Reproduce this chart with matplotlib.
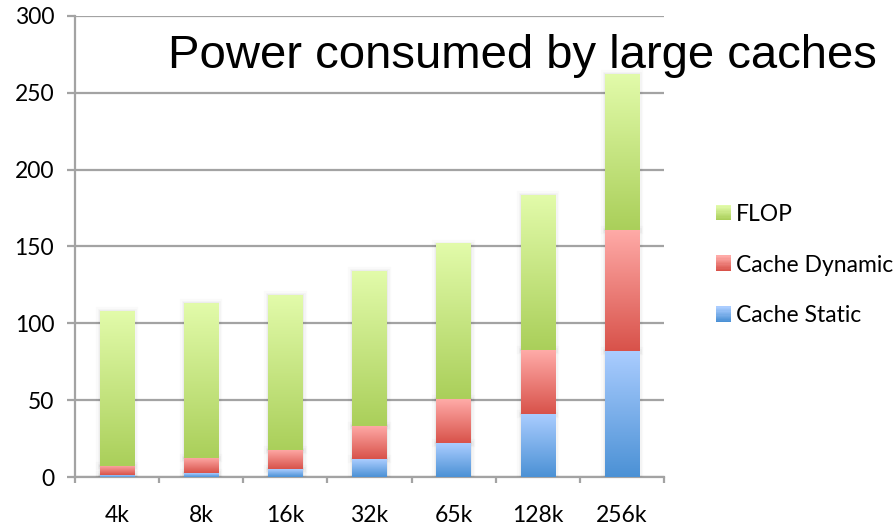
import numpy as np
import matplotlib
matplotlib.use('Agg')
import matplotlib.pyplot as plt
import matplotlib.patheffects as pe
from matplotlib.colors import LinearSegmentedColormap
from matplotlib.patches import Rectangle
from matplotlib.legend_handler import HandlerBase

# cache sizes and power per component
sizes = ['4k', '8k', '16k', '32k', '65k', '128k', '256k']
cache_static = [1.3, 2.6, 5.1, 11.5, 22, 41, 82]
cache_dynamic = [6.1, 10, 12.5, 22, 28.5, 41.5, 79]
flop = [100.5, 100.5, 100.8, 100.5, 101, 100.8, 101]

# (top colour, bottom colour) for each series
shades = {
    'Cache Static': ('#abcdff', '#4b91d5'),
    'Cache Dynamic': ('#ffaba8', '#d8524a'),
    'FLOP': ('#e2fbaa', '#aacf5a'),
}

plt.rcParams['font.family'] = ['Lato', 'DejaVu Sans']

fig = plt.figure(figsize=(8.96, 5.27), dpi=100)
ax = fig.add_axes([75 / 896, 1 - 477 / 527, (664 - 75) / 896, (477 - 16) / 527])

x = np.arange(len(sizes))
bottom = np.zeros(len(sizes))
shadow = [pe.Stroke(linewidth=6, foreground='k', alpha=0.02),
          pe.Stroke(linewidth=3.5, foreground='k', alpha=0.025),
          pe.Stroke(linewidth=1.5, foreground='k', alpha=0.03),
          pe.Normal()]

for name, vals in [('Cache Static', cache_static),
                   ('Cache Dynamic', cache_dynamic),
                   ('FLOP', flop)]:
    top_c, bot_c = shades[name]
    cmap = LinearSegmentedColormap.from_list(name, [bot_c, top_c])
    bars = ax.bar(x, vals, width=0.41, bottom=bottom, color=bot_c,
                  linewidth=0, zorder=3)
    for p in bars:
        p.set_path_effects(shadow)
        bx, by = p.get_x(), p.get_y()
        bw, bh = p.get_width(), p.get_height()
        grad = np.linspace(0, 1, 256).reshape(-1, 1)
        ax.imshow(grad, cmap=cmap, origin='lower', aspect='auto',
                  extent=[bx, bx + bw, by, by + bh], zorder=4,
                  interpolation='bicubic')
    bottom = bottom + np.array(vals)

ax.set_xlim(-0.5, len(sizes) - 0.5)
ax.set_ylim(0, 300)
ax.set_yticks(range(0, 301, 50))
ax.set_xticks(x)
ax.set_xticklabels(sizes)
ax.set_xticks(np.arange(-0.5, len(sizes), 1), minor=True)

grid_c = '#a3a3a3'
ax.yaxis.grid(True, color=grid_c, linewidth=1.6, zorder=0)
ax.set_axisbelow(True)
for s in ['top', 'right']:
    ax.spines[s].set_visible(False)
for s in ['left', 'bottom']:
    ax.spines[s].set_color(grid_c)
    ax.spines[s].set_linewidth(1.6)

ax.tick_params(axis='y', length=6, width=1.6, color=grid_c, pad=9,
               labelsize=16.5)
ax.tick_params(axis='x', which='major', length=0, pad=20, labelsize=16.5)
ax.tick_params(axis='x', which='minor', length=4, width=1.6, color=grid_c)


class GradientHandler(HandlerBase):
    def __init__(self, colors):
        super().__init__()
        self.colors = colors

    def create_artists(self, legend, orig_handle, xdescent, ydescent,
                       width, height, fontsize, trans):
        top_c, bot_c = self.colors[orig_handle.get_label()]
        cmap = LinearSegmentedColormap.from_list('h', [bot_c, top_c])
        n = 12
        arts = []
        for i in range(n):
            r = Rectangle((-xdescent, -ydescent + height * i / n), width,
                          height / n + 0.3, facecolor=cmap(i / (n - 1)),
                          edgecolor='none', transform=trans)
            arts.append(r)
        return arts


handles = [Rectangle((0, 0), 1, 1, label=n)
           for n in ['FLOP', 'Cache Dynamic', 'Cache Static']]
fig.legend(handles=handles, labels=[h.get_label() for h in handles],
           handler_map={h: GradientHandler(shades) for h in handles},
           loc='center left', bbox_to_anchor=(695 / 896, 1 - 265 / 527),
           frameon=False, fontsize=16.5, handlelength=0.65,
           handleheight=0.65, handletextpad=0.25, labelspacing=1.3)

fig.text(168 / 896, 1 - 68 / 527, 'Power consumed by large caches',
         fontsize=34, family=['Liberation Sans', 'DejaVu Sans'],
         va='baseline', ha='left')

fig.savefig('out.png', dpi=100)
